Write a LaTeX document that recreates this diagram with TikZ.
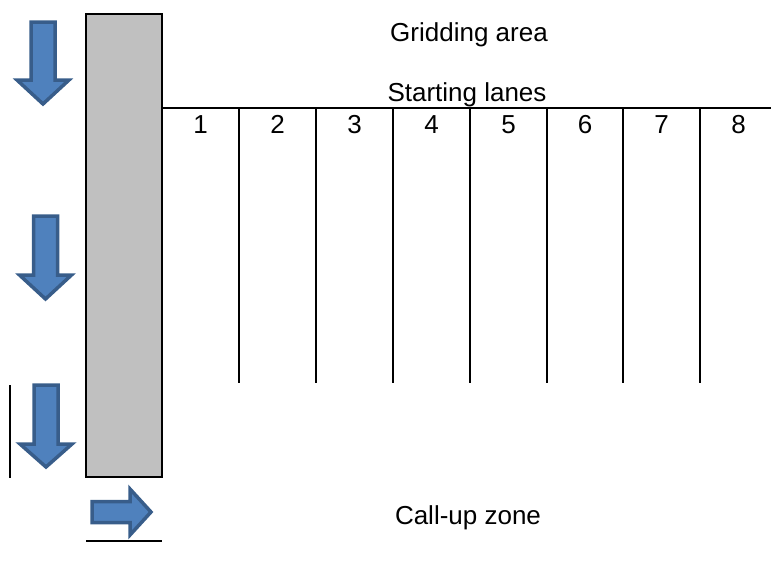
\documentclass[tikz,border=0pt]{standalone}
\usepackage{fontspec}
\setmainfont{Liberation Sans}
\definecolor{arrfill}{RGB}{79,129,189}
\definecolor{arrdraw}{RGB}{56,93,138}
\definecolor{padgray}{RGB}{192,192,192}
\begin{document}
\begin{tikzpicture}[x=1pt,y=-1pt,
  blockarrow/.style={fill=arrfill,draw=arrdraw,line width=3.5pt,line join=miter},
  lbl/.style={inner sep=0pt,anchor=base,font=\fontsize{26}{30}\selectfont},
  laneline/.style={line width=1.6pt},
  edgeline/.style={line width=2pt}]
\useasboundingbox (0,0) rectangle (771,565);
% gray block
\draw[edgeline,fill=padgray] (86,14) rectangle (162,477);
% horizontal start line
\coordinate (hl0) at (162,107.5);
\coordinate (hl1) at (771,107.5);
\draw[edgeline] (hl0) -- (hl1);
% lane lines
\foreach \i/\x in {1/239,2/316,3/393,4/470,5/547,6/623,7/700}{
  \coordinate (lt\i) at (\x,107.5);
  \coordinate (lb\i) at (\x,383);
  \draw[laneline] (lt\i) -- (lb\i);
}
% lane numbers
\foreach \n/\x in {1/200.5,2/277.5,3/354.5,4/431.5,5/508.5,6/585,7/661.5,8/738.5}{
  \node[lbl] (num\n) at (\x,133.3) {\n};
}
\node[lbl] (grid) at (469,41) {Gridding area};
\node[lbl] (start) at (467,101.5) {Starting lanes};
\node[lbl] (call) at (468,524) {Call-up zone};
% down arrows
\draw[blockarrow] (31,22) -- (55,22) -- (55,80) -- (69,80) -- (43,104) -- (17,80) -- (31,80) -- cycle;
\draw[blockarrow] (33.5,216) -- (57.5,216) -- (57.5,275) -- (71.5,275) -- (45.5,299) -- (19.5,275) -- (33.5,275) -- cycle;
\draw[blockarrow] (34,385) -- (58,385) -- (58,444) -- (72,444) -- (46,467) -- (20,444) -- (34,444) -- cycle;
% right arrow
\draw[blockarrow] (92,501.5) -- (130,501.5) -- (130,489) -- (151,512) -- (130,535) -- (130,522.5) -- (92,522.5) -- cycle;
% small lines
\coordinate (vl0) at (10,385);
\coordinate (vl1) at (10,478);
\draw[edgeline] (vl0) -- (vl1);
\coordinate (bl0) at (86,541);
\coordinate (bl1) at (162,541);
\draw[edgeline] (bl0) -- (bl1);
\end{tikzpicture}
\end{document}
